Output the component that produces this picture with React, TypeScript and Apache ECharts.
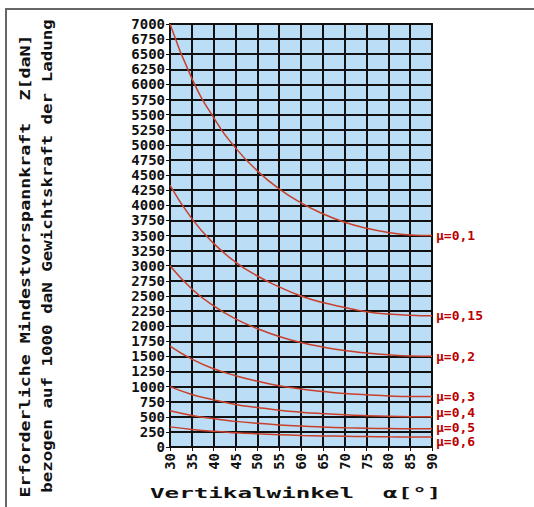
import React, { useEffect, useRef } from "react";
import * as echarts from "echarts";

const angles = [30, 35, 40, 45, 50, 55, 60, 65, 70, 75, 80, 85, 90];
const mu01 = [7000, 6100, 5450, 4950, 4570, 4270, 4040, 3860, 3720, 3620, 3550, 3510, 3500];
const mu015 = [4330, 3780, 3370, 3060, 2830, 2650, 2500, 2390, 2310, 2240, 2200, 2180, 2170];
const mu02 = [3000, 2615, 2335, 2120, 1960, 1830, 1730, 1655, 1595, 1555, 1525, 1505, 1500];
const mu03 = [1670, 1455, 1295, 1180, 1090, 1015, 960, 920, 885, 865, 845, 835, 835];
const mu04 = [1000, 870, 780, 705, 655, 610, 577, 552, 532, 518, 508, 502, 500];
const mu05 = [600, 523, 467, 424, 392, 366, 346, 331, 319, 311, 305, 301, 300];
const mu06 = [333, 291, 259, 236, 218, 203, 192, 184, 177, 173, 169, 167, 167];
const seriesNames = ["μ=0,1", "μ=0,15", "μ=0,2", "μ=0,3", "μ=0,4", "μ=0,5", "μ=0,6"];
const seriesValues = [mu01, mu015, mu02, mu03, mu04, mu05, mu06];
const labelOffsets = [0, 0, 0, 0, -4, -1, 5];

const yTitle1 = "Erforderliche Mindestvorspannkraft  Z[daN]";
const yTitle2 = "bezogen auf 1000 daN Gewichtskraft der Ladung";
const xTitle = "Vertikalwinkel  α[°]";

const MONO = '"DejaVu Sans Mono", "Liberation Mono", monospace';

export default function App() {
  const ref = useRef<HTMLDivElement>(null);
  useEffect(() => {
    if (!ref.current) return;
    const chart = echarts.init(ref.current, undefined, { renderer: "svg" });
    chart.setOption({
      animation: false,
      backgroundColor: "#ffffff",
      grid: {
        left: 170,
        right: 102,
        top: 24,
        bottom: 60,
        show: true,
        backgroundColor: "#BBDDF5",
        borderColor: "#222222",
        borderWidth: 2,
      },
      xAxis: {
        type: "value",
        min: 30,
        max: 90,
        interval: 5,
        axisLine: { show: true, lineStyle: { color: "#111", width: 2 } },
        axisTick: { show: true, length: 4, lineStyle: { color: "#111", width: 1 } },
        splitLine: { show: true, lineStyle: { color: "#111", width: 2 } },
        axisLabel: {
          rotate: 90,
          interval: 0,
          margin: 6,
          color: "#111",
          fontFamily: MONO,
          fontWeight: "bold",
          fontSize: 14,
          formatter: (v: number) => String(v),
        },
      },
      yAxis: {
        type: "value",
        min: 0,
        max: 7000,
        interval: 250,
        axisLine: { show: true, lineStyle: { color: "#111", width: 2 } },
        axisTick: { show: true, length: 4, lineStyle: { color: "#111", width: 1 } },
        splitLine: { show: true, lineStyle: { color: "#111", width: 2 } },
        axisLabel: {
          margin: 5,
          color: "#111",
          fontFamily: MONO,
          fontWeight: "bold",
          fontSize: 14,
          formatter: (v: number) => String(v),
        },
      },
      series: seriesNames.map((name, i) => ({
        name,
        type: "line",
        smooth: true,
        showSymbol: false,
        data: angles.map((a, j) => [a, seriesValues[i][j]]),
        lineStyle: { color: "#C8402C", width: 1.5 },
        itemStyle: { color: "#C8402C" },
        endLabel: {
          show: true,
          formatter: name,
          color: "#B80000",
          fontFamily: MONO,
          fontWeight: "bold",
          fontSize: 13,
          lineHeight: 11,
          distance: 4,
          offset: [0, labelOffsets[i]],
        },
        z: 3,
      })),
      graphic: [
        { type: "line", shape: { x1: 5, y1: 9, x2: 534, y2: 9 }, style: { stroke: "#666", lineWidth: 2 } },
        { type: "line", shape: { x1: 6, y1: 9, x2: 6, y2: 507 }, style: { stroke: "#666", lineWidth: 2 } },
        {
          type: "text",
          x: 25,
          y: 266,
          rotation: Math.PI / 2,
          scaleX: 1.31,
          style: {
            text: yTitle1,
            font: `bold 14px ${MONO}`,
            align: "center",
            verticalAlign: "middle",
            fill: "#111",
          },
        },
        {
          type: "text",
          x: 47,
          y: 256,
          rotation: Math.PI / 2,
          scaleX: 1.25,
          style: {
            text: yTitle2,
            font: `bold 14px ${MONO}`,
            align: "center",
            verticalAlign: "middle",
            fill: "#111",
          },
        },
        {
          type: "text",
          x: 150,
          y: 493,
          scaleX: 1.73,
          style: {
            text: xTitle,
            font: `bold 14px ${MONO}`,
            align: "left",
            verticalAlign: "middle",
            fill: "#111",
          },
        },
      ],
    });
    return () => chart.dispose();
  }, []);
  return (
    <div
      ref={ref}
      style={{ position: "fixed", left: 0, top: 0, width: 534, height: 507 }}
    />
  );
}
